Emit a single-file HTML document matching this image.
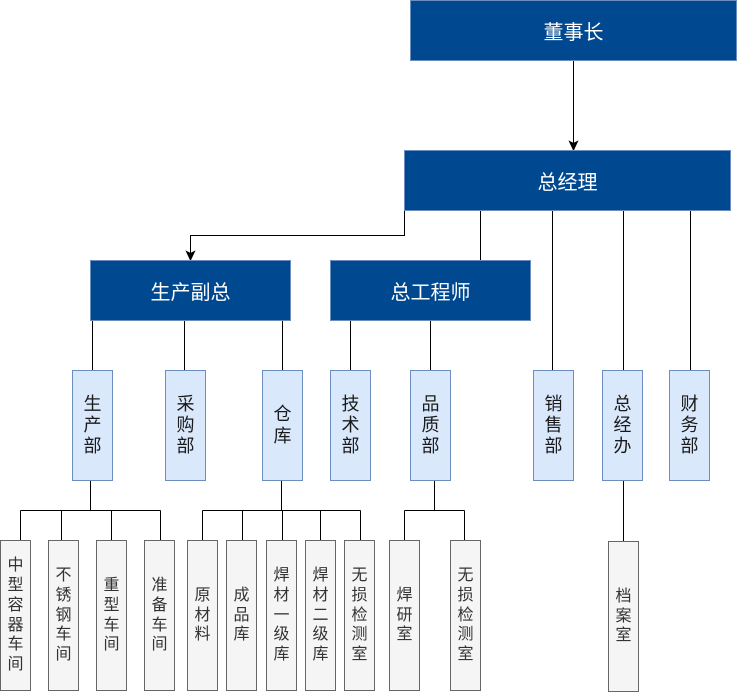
<!DOCTYPE html>
<html>
<head>
<meta charset="utf-8">
<style>
  html, body { margin:0; padding:0; }
  body { width:744px; height:692px; background:#fff; position:relative; overflow:hidden;
         font-family:"Liberation Sans","Noto Sans CJK SC",sans-serif; }
  .b { position:absolute; box-sizing:border-box; border:1px solid #6c8ebf; display:flex;
       align-items:center; justify-content:center; text-align:center; }
  .l1 { background:#004890; color:#fff; font-size:20px; }
  .l3 { background:#dae8fc; color:#1a1a1a; font-size:18px; line-height:21.3px; top:370px; width:41px; height:111px; }
  .l4 { background:#f5f5f5; border-color:#666; color:#333; font-size:16px; line-height:19.7px; top:540px; width:31px; height:151px; }
  svg { position:absolute; left:0; top:0; }
</style>
</head>
<body>
<svg width="744" height="692" viewBox="0 0 744 692">
  <g stroke="#000" stroke-width="1" fill="none">
    <line x1="573.5" y1="60" x2="573.5" y2="143"/>
    <polyline points="404.5,210 404.5,235.5 190.5,235.5 190.5,253"/>
    <line x1="480.5" y1="210" x2="480.5" y2="260"/>
    <line x1="552.5" y1="210" x2="552.5" y2="370"/>
    <line x1="623.5" y1="210" x2="623.5" y2="370"/>
    <line x1="690.5" y1="210" x2="690.5" y2="370"/>
    <line x1="92.5" y1="320" x2="92.5" y2="370"/>
    <line x1="184.5" y1="320" x2="184.5" y2="370"/>
    <line x1="282.5" y1="320" x2="282.5" y2="370"/>
    <line x1="350.5" y1="320" x2="350.5" y2="370"/>
    <line x1="430.5" y1="320" x2="430.5" y2="370"/>
    <!-- 生产部 -->
    <line x1="90.5" y1="480" x2="90.5" y2="510.5"/>
    <line x1="20.5" y1="510.5" x2="160.5" y2="510.5"/>
    <line x1="20.5" y1="510.5" x2="20.5" y2="540"/>
    <line x1="61.5" y1="510.5" x2="61.5" y2="540"/>
    <line x1="111.5" y1="510.5" x2="111.5" y2="540"/>
    <line x1="160.5" y1="510.5" x2="160.5" y2="540"/>
    <!-- 仓库 -->
    <line x1="281.5" y1="480" x2="281.5" y2="510.5"/>
    <line x1="202.5" y1="510.5" x2="360.5" y2="510.5"/>
    <line x1="202.5" y1="510.5" x2="202.5" y2="540"/>
    <line x1="242.5" y1="510.5" x2="242.5" y2="540"/>
    <line x1="282.5" y1="510.5" x2="282.5" y2="540"/>
    <line x1="320.5" y1="510.5" x2="320.5" y2="540"/>
    <line x1="360.5" y1="510.5" x2="360.5" y2="540"/>
    <!-- 品质部 -->
    <line x1="434.5" y1="480" x2="434.5" y2="510.5"/>
    <line x1="404.5" y1="510.5" x2="464.5" y2="510.5"/>
    <line x1="404.5" y1="510.5" x2="404.5" y2="540"/>
    <line x1="464.5" y1="510.5" x2="464.5" y2="540"/>
    <!-- 总经办 -->
    <line x1="623.5" y1="480" x2="623.5" y2="541"/>
  </g>
  <g fill="#000" stroke="#000" stroke-width="1">
    <path d="M573.5,150 L569.5,141.5 L573.5,143.5 L577.5,141.5 Z"/>
    <path d="M190.5,260 L186.5,251.5 L190.5,253.5 L194.5,251.5 Z"/>
  </g>
</svg>

<div class="b l1" style="left:410px;top:0px;width:327px;height:61px;">董事长</div>
<div class="b l1" style="left:404px;top:150px;width:327px;height:61px;">总经理</div>
<div class="b l1" style="left:90px;top:260px;width:201px;height:61px;">生产副总</div>
<div class="b l1" style="left:330px;top:260px;width:201px;height:61px;">总工程师</div>

<div class="b l3" style="left:72px;">生<br>产<br>部</div>
<div class="b l3" style="left:165px;">采<br>购<br>部</div>
<div class="b l3" style="left:262px;">仓<br>库</div>
<div class="b l3" style="left:330px;">技<br>术<br>部</div>
<div class="b l3" style="left:410px;">品<br>质<br>部</div>
<div class="b l3" style="left:533px;">销<br>售<br>部</div>
<div class="b l3" style="left:602px;">总<br>经<br>办</div>
<div class="b l3" style="left:669px;">财<br>务<br>部</div>

<div class="b l4" style="left:0px;">中<br>型<br>容<br>器<br>车<br>间</div>
<div class="b l4" style="left:48px;">不<br>锈<br>钢<br>车<br>间</div>
<div class="b l4" style="left:96px;">重<br>型<br>车<br>间</div>
<div class="b l4" style="left:144px;">准<br>备<br>车<br>间</div>
<div class="b l4" style="left:187px;">原<br>材<br>料</div>
<div class="b l4" style="left:226px;">成<br>品<br>库</div>
<div class="b l4" style="left:266px;">焊<br>材<br>一<br>级<br>库</div>
<div class="b l4" style="left:305px;">焊<br>材<br>二<br>级<br>库</div>
<div class="b l4" style="left:344px;">无<br>损<br>检<br>测<br>室</div>
<div class="b l4" style="left:389px;">焊<br>研<br>室</div>
<div class="b l4" style="left:450px;">无<br>损<br>检<br>测<br>室</div>
<div class="b l4" style="left:608px;top:541px;">档<br>案<br>室</div>
</body>
</html>
